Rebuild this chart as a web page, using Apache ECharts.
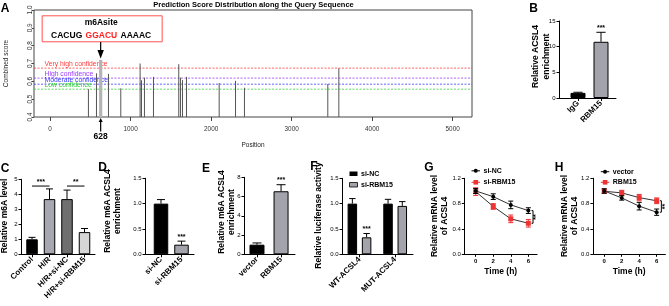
<!DOCTYPE html>
<html><head><meta charset="utf-8">
<script src="https://cdn.jsdelivr.net/npm/echarts@6/dist/echarts.min.js"></script>
<style>html,body{margin:0;padding:0;background:#fff}#c{width:669px;height:306px}</style>
</head><body><div id="c"></div>
<script>
// ---------------- DATA ----------------
// Panel A
const aPositions = [476, 576, 628, 725, 878, 1118, 1135, 1172, 1284, 1598, 1619, 1644, 1694, 2100, 2303, 2414, 3449, 3586];
const aScores    = [0.556, 0.645, 0.72, 0.642, 0.561, 0.70, 0.606, 0.621, 0.625, 0.696, 0.621, 0.607, 0.625, 0.59, 0.603, 0.564, 0.585, 0.673];
const aSitePos = 628;
const aSiteSeq = ['CACUG', 'GGACU', 'AAAAC'];
const aThresholds = [0.674, 0.618, 0.584, 0.556];
const aThresholdNames = ['Very high confidence', 'High confidence', 'Moderate confidence', 'Low confidence'];
const aXTicks = [0, 1000, 2000, 3000, 4000, 5000];
// Panel B
const bCats = ['IgG', 'RBM15'];
const bValues = [1.0, 10.95];
const bErrors = [0.12, 1.85];
const bSig = ['', '***'];
// Panel C
const cCats = ['Control', 'H/R', 'H/R+si-NC', 'H/R+si-RBM15'];
const cValues = [1.0, 3.68, 3.68, 1.48];
const cErrors = [0.13, 0.68, 0.6, 0.24];
const cBrackets = [[0, 1, '***'], [2, 3, '**']];
const cBracketLevel = 4.55;
// Panel D
const dCats = ['si-NC', 'si-RBM15'];
const dValues = [1.0, 0.19];
const dErrors = [0.08, 0.07];
const dSig = ['', '***'];
// Panel E
const eCats = ['vector', 'RBM15'];
const eValues = [1.0, 6.55];
const eErrors = [0.18, 0.68];
const eSig = ['', '***'];
// Panel F
const fCats = ['WT-ACSL4', 'MUT-ACSL4'];
const fSiNC = [1.0, 1.0];
const fSiNCErr = [0.1, 0.085];
const fSiRBM15 = [0.335, 0.955];
const fSiRBM15Err = [0.075, 0.085];
const fSig = ['***', ''];
// Panel G
const gTimes = [0, 2, 4, 6];
const gSiNC = [1.0, 0.91, 0.78, 0.69];
const gSiNCErr = [0.04, 0.045, 0.06, 0.045];
const gSiRBM15 = [0.99, 0.755, 0.56, 0.49];
const gSiRBM15Err = [0.06, 0.045, 0.06, 0.06];
const gSig = '**';
// Panel H
const hTimes = [0, 2, 4, 6];
const hVector = [1.0, 0.89, 0.76, 0.665];
const hVectorErr = [0.035, 0.035, 0.06, 0.05];
const hRBM15 = [0.995, 0.97, 0.895, 0.845];
const hRBM15Err = [0.035, 0.04, 0.05, 0.045];
const hSig = '**';

// ---------------- STYLE / LAYOUT ----------------
const FONT = '"Liberation Sans", Arial, sans-serif';
const GRAY = '#a3a3ab';
const grids = [], xAxes = [], yAxes = [], series = [];

function yAxisCfg(gi, max, interval, fmt) {
  return {
    gridIndex: gi, type: 'value', min: 0, max: max, interval: interval, splitLine: {show: false},
    axisLine: {show: true, onZero: false, lineStyle: {color: '#000', width: 1}},
    axisTick: {show: true, length: 2.5, lineStyle: {color: '#000'}},
    axisLabel: {show: true, fontSize: 6, margin: 3.5, color: '#000', fontFamily: FONT, hideOverlap: false,
      showMinLabel: true, showMaxLabel: true, formatter: fmt || (v => String(v))}
  };
}

function barPanel(o) {
  const gi = grids.length;
  grids.push({left: o.left, top: o.top, width: o.width, height: o.height, outerBoundsMode: 'none'});
  const idx = o.cats.map((_, i) => i);
  xAxes.push({
    gridIndex: gi, type: 'value', min: o.xmin, max: o.xmax, splitLine: {show: false},
    axisLine: {show: true, onZero: false, lineStyle: {color: '#000', width: 1}},
    axisTick: {show: true, customValues: idx, length: 3, lineStyle: {color: '#000'}},
    axisLabel: {show: true, customValues: idx, formatter: v => o.cats[Math.round(v)], rotate: 45, margin: 4,
      fontSize: 8, fontWeight: 'bold', color: '#000', fontFamily: FONT}
  });
  yAxes.push(yAxisCfg(gi, o.ymax, o.yint, o.yfmt));
  o.groups.forEach((g, si) => {
    const off = o.offsets ? o.offsets[si] : 0;
    series.push({
      type: 'bar', name: g.name, xAxisIndex: gi, yAxisIndex: gi, barWidth: o.barWidth, barGap: o.barGap || '0%',
      data: g.values.map((v, i) => ({value: [i, v], itemStyle: {color: g.colors[i]}})),
      itemStyle: {borderColor: '#000', borderWidth: 1}, animation: false, silent: true
    });
    series.push({
      type: 'custom', xAxisIndex: gi, yAxisIndex: gi, clip: false, animation: false, silent: true, z: 3,
      data: g.values.map((v, i) => [i, v, g.errors[i]]),
      renderItem: (params, api) => {
        const i = params.dataIndex;
        const x = api.value(0), v = api.value(1), e = api.value(2);
        const p0 = api.coord([x, v]), p1 = api.coord([x, v + e]);
        const cx = p0[0] + off;
        const ch = [
          {type: 'line', shape: {x1: cx, y1: p0[1], x2: cx, y2: p1[1]}, style: {stroke: '#000', lineWidth: 1}},
          {type: 'line', shape: {x1: cx - o.cap, y1: p1[1], x2: cx + o.cap, y2: p1[1]}, style: {stroke: '#000', lineWidth: 1}}
        ];
        const s = g.sig ? g.sig[i] : '';
        if (s) ch.push({type: 'text', x: cx, y: p1[1] - 1, style: {text: s, align: 'center', verticalAlign: 'bottom', font: 'bold 7px ' + FONT, fill: '#000'}});
        return {type: 'group', children: ch};
      }
    });
  });
  return gi;
}

function linePanel(o) {
  const gi = grids.length;
  grids.push({left: o.left, top: o.top, width: o.width, height: o.height, outerBoundsMode: 'none'});
  xAxes.push({
    gridIndex: gi, type: 'value', min: -1.3, max: 7, splitLine: {show: false},
    name: 'Time (h)', nameLocation: 'middle', nameGap: 13,
    nameTextStyle: {fontSize: 8.5, fontWeight: 'bold', fontFamily: FONT, color: '#000'},
    axisLine: {show: true, onZero: false, lineStyle: {color: '#000', width: 1}},
    axisTick: {show: true, customValues: o.times, length: 2.5, lineStyle: {color: '#000'}},
    axisLabel: {show: true, customValues: o.times, fontSize: 6, fontWeight: 'bold', margin: 4, color: '#000', fontFamily: FONT}
  });
  yAxes.push(yAxisCfg(gi, 1.2, 0.4, v => v.toFixed(1)));
  o.lines.forEach(l => {
    series.push({
      type: 'line', name: l.name, xAxisIndex: gi, yAxisIndex: gi,
      data: o.times.map((t, i) => [t, l.values[i]]),
      symbol: l.symbol, symbolSize: l.size, lineStyle: {color: l.lineColor, width: 1},
      itemStyle: {color: l.color}, animation: false, silent: true, z: l.z
    });
    series.push({
      type: 'custom', xAxisIndex: gi, yAxisIndex: gi, clip: false, animation: false, silent: true, z: l.z,
      data: o.times.map((t, i) => [t, l.values[i], l.errors[i]]),
      renderItem: (params, api) => {
        const x = api.value(0), v = api.value(1), e = api.value(2);
        const pt = api.coord([x, v + e]), pb = api.coord([x, v - e]);
        const st = {stroke: l.color, lineWidth: 1};
        return {type: 'group', children: [
          {type: 'line', shape: {x1: pt[0], y1: pt[1], x2: pb[0], y2: pb[1]}, style: st},
          {type: 'line', shape: {x1: pt[0] - 2.5, y1: pt[1], x2: pt[0] + 2.5, y2: pt[1]}, style: st},
          {type: 'line', shape: {x1: pb[0] - 2.5, y1: pb[1], x2: pb[0] + 2.5, y2: pb[1]}, style: st}
        ]};
      }
    });
  });
  const last = o.times.length - 1;
  series.push({
    type: 'custom', xAxisIndex: gi, yAxisIndex: gi, clip: false, animation: false, silent: true,
    data: [[o.times[last], o.lines[0].values[last], o.lines[1].values[last]]],
    renderItem: (params, api) => {
      const p1 = api.coord([api.value(0), api.value(1)]), p2 = api.coord([api.value(0), api.value(2)]);
      const x = p1[0] + 4.7;
      const st = {stroke: '#000', lineWidth: 1};
      return {type: 'group', children: [
        {type: 'line', shape: {x1: x, y1: p1[1], x2: x, y2: p2[1]}, style: st},
        {type: 'line', shape: {x1: x - 1.5, y1: p1[1], x2: x, y2: p1[1]}, style: st},
        {type: 'line', shape: {x1: x - 1.5, y1: p2[1], x2: x, y2: p2[1]}, style: st},
        {type: 'text', x: x + 3.2, y: (p1[1] + p2[1]) / 2, rotation: Math.PI / 2,
          style: {text: o.sig, align: 'center', verticalAlign: 'middle', font: 'bold 7px ' + FONT, fill: '#000'}}
      ]};
    }
  });
  return gi;
}

// ---------- Panel A ----------
grids.push({left: 34, top: 10, width: 438, height: 107, show: true, borderColor: '#444', borderWidth: 1, outerBoundsMode: 'none'});
xAxes.push({
  gridIndex: 0, type: 'value', min: -200, max: 5240, splitLine: {show: false},
  name: 'Position', nameLocation: 'middle', nameGap: 24.5,
  nameTextStyle: {fontSize: 6.5, color: '#222', fontFamily: FONT},
  axisLine: {show: false, onZero: false},
  axisTick: {show: true, customValues: aXTicks, length: 4, lineStyle: {color: '#444'}},
  axisLabel: {show: true, customValues: aXTicks, fontSize: 6.4, margin: 9, color: '#333', fontFamily: FONT, formatter: v => String(v)}
});
yAxes.push({
  gridIndex: 0, type: 'value', min: 0.4, max: 1.0, interval: 0.1, splitLine: {show: false},
  name: 'Combined score', nameLocation: 'middle', nameGap: 24, nameRotate: 90,
  nameTextStyle: {fontSize: 6.5, color: '#222', fontFamily: FONT},
  axisLine: {show: false, onZero: false},
  axisTick: {show: true, length: 2, lineStyle: {color: '#444'}},
  axisLabel: {rotate: 90, fontSize: 6.4, margin: 1, color: '#333', fontFamily: FONT, formatter: v => v.toFixed(1)}
});
const thrColors = ['#ff3b3b', '#9b3bff', '#3b3bff', '#33d633'];
series.push({
  type: 'custom', xAxisIndex: 0, yAxisIndex: 0, animation: false, silent: true, z: 1,
  data: aThresholds.map(t => [0, t]),
  renderItem: (params, api) => {
    const cs = params.coordSys;
    const y = api.coord([0, api.value(1)])[1];
    const c = thrColors[params.dataIndex];
    return {type: 'group', children: [
      {type: 'line', shape: {x1: cs.x, y1: y, x2: cs.x + cs.width, y2: y}, style: {stroke: c, lineWidth: 0.8, lineDash: [2, 1.5]}},
      {type: 'text', x: cs.x + 10.5, y: y - 1, style: {text: aThresholdNames[params.dataIndex], align: 'left', verticalAlign: 'bottom', font: '6.8px ' + FONT, fill: c}}
    ]};
  }
});
series.push({
  type: 'custom', xAxisIndex: 0, yAxisIndex: 0, animation: false, silent: true, z: 2,
  data: aPositions.map((p, i) => [p, aScores[i]]),
  renderItem: (params, api) => {
    const p = api.value(0);
    const top = api.coord([p, api.value(1)]), bot = api.coord([p, 0.4]);
    const isSite = p === aSitePos;
    return {type: 'line', shape: {x1: top[0], y1: top[1], x2: bot[0], y2: bot[1]},
      style: {stroke: isSite ? '#b4b4b4' : '#555', lineWidth: isSite ? 3.2 : 1}};
  }
});

// ---------- Panels B-H ----------
barPanel({left: 559, top: 21, width: 57, height: 77, xmin: -0.826, xmax: 1.652, ymax: 15, yint: 5,
  cats: bCats, barWidth: 15, cap: 4.6,
  groups: [{name: 'B', values: bValues, errors: bErrors, sig: bSig, colors: ['#000', GRAY]}]});
const cGrid = barPanel({left: 21, top: 179.3, width: 74, height: 75, xmin: -0.63, xmax: 3.6, ymax: 5, yint: 1,
  cats: cCats, barWidth: 11.5, cap: 3.5,
  groups: [{name: 'C', values: cValues, errors: cErrors, colors: ['#000', '#a7a7b1', '#6f6f6f', '#d6d6d6']}]});
series.push({
  type: 'custom', xAxisIndex: cGrid, yAxisIndex: cGrid, clip: false, animation: false, silent: true,
  data: cBrackets.map(b => [b[0], b[1], cBracketLevel]),
  renderItem: (params, api) => {
    const a = api.coord([api.value(0), api.value(2)]), b = api.coord([api.value(1), api.value(2)]);
    return {type: 'group', children: [
      {type: 'line', shape: {x1: a[0], y1: a[1], x2: b[0], y2: b[1]}, style: {stroke: '#000', lineWidth: 1}},
      {type: 'text', x: (a[0] + b[0]) / 2, y: a[1] - 0.5, style: {text: cBrackets[params.dataIndex][2], align: 'center', verticalAlign: 'bottom', font: 'bold 7px ' + FONT, fill: '#000'}}
    ]};
  }
});
barPanel({left: 145, top: 178.3, width: 49, height: 76, xmin: -0.78, xmax: 1.61, ymax: 1.5, yint: 0.5,
  yfmt: v => v.toFixed(1), cats: dCats, barWidth: 14.5, cap: 4,
  groups: [{name: 'D', values: dValues, errors: dErrors, sig: dSig, colors: ['#000', GRAY]}]});
barPanel({left: 244, top: 177.3, width: 51, height: 77, xmin: -0.54, xmax: 1.58, ymax: 8, yint: 2,
  cats: eCats, barWidth: 15, cap: 4.5,
  groups: [{name: 'E', values: eValues, errors: eErrors, sig: eSig, colors: ['#000', GRAY]}]});
barPanel({left: 342, top: 178.3, width: 71, height: 76, xmin: -0.49, xmax: 1.5, ymax: 1.5, yint: 0.5,
  yfmt: v => v.toFixed(1), cats: fCats, barWidth: 9.5, barGap: '50%', cap: 3.2, offsets: [-7.125, 7.125],
  groups: [
    {name: 'si-NC', values: fSiNC, errors: fSiNCErr, colors: ['#000', '#000']},
    {name: 'si-RBM15', values: fSiRBM15, errors: fSiRBM15Err, sig: fSig, colors: [GRAY, GRAY]}
  ]});
linePanel({left: 464.3, top: 178.3, width: 72.8, height: 76, times: gTimes, sig: gSig,
  lines: [
    {name: 'si-NC', values: gSiNC, errors: gSiNCErr, symbol: 'circle', size: 4, color: '#000', lineColor: '#333', z: 4},
    {name: 'si-RBM15', values: gSiRBM15, errors: gSiRBM15Err, symbol: 'rect', size: 5, color: '#ee3333', lineColor: '#333', z: 3}
  ]});
linePanel({left: 592.9, top: 178.3, width: 72.5, height: 76, times: hTimes, sig: hSig,
  lines: [
    {name: 'vector', values: hVector, errors: hVectorErr, symbol: 'circle', size: 4, color: '#000', lineColor: '#333', z: 4},
    {name: 'RBM15', values: hRBM15, errors: hRBM15Err, symbol: 'rect', size: 5, color: '#ee3333', lineColor: '#333', z: 3}
  ]});

const chart = echarts.init(document.getElementById('c'), null, {renderer: 'canvas'});
chart.setOption({animation: false, backgroundColor: '#fff', grid: grids, xAxis: xAxes, yAxis: yAxes, series: series});

// ---------------- annotations (text) ----------------
const site = chart.convertToPixel({gridIndex: 0}, [aSitePos, 1.0]);
const siteBot = chart.convertToPixel({gridIndex: 0}, [aSitePos, 0.4]);
const sx = site[0];
function T(x, y, text, font, o) {
  o = o || {};
  return {type: 'text', x: x, y: y, rotation: o.rot || 0, z: 100,
    style: {text: text, font: font, fill: o.fill || '#000', align: o.align || 'center', verticalAlign: 'middle', lineHeight: o.lh}};
}
const B9 = 'bold 8.5px ' + FONT;
const L12 = 'bold 12px ' + FONT;
const R = Math.PI / 2;
const g = [
  // panel letters
  T(5, 9, 'A', L12), T(533.5, 9, 'B', L12), T(5, 169, 'C', L12), T(102.5, 168, 'D', L12),
  T(206, 168.5, 'E', L12), T(314, 167, 'F', L12), T(429, 168, 'G', L12), T(559, 168, 'H', L12),
  // panel A
  T(253.5, 4.5, 'Prediction Score Distribution along the Query Sequence', 'bold 7.5px ' + FONT),
  {type: 'rect', z: 100, shape: {x: sx - 58.5, y: site[1] + 5.8, width: 120, height: 26}, style: {fill: '#fff', stroke: '#ff5050', lineWidth: 1}},
  T(sx + 0.5, site[1] + 13, 'm6Asite', 'bold 8.5px ' + FONT),
  {type: 'text', z: 100, x: sx + 0.5, y: site[1] + 26, style: {
    text: '{k|' + aSiteSeq[0] + '} {r|' + aSiteSeq[1] + '} {k|' + aSiteSeq[2] + '}',
    align: 'center', verticalAlign: 'middle',
    rich: {k: {font: 'bold 8.5px ' + FONT, fill: '#000'}, r: {font: 'bold 8.5px ' + FONT, fill: '#ff2020'}}}},
  {type: 'line', z: 100, shape: {x1: sx, y1: site[1] + 32, x2: sx, y2: site[1] + 41}, style: {stroke: '#000', lineWidth: 1.2}},
  {type: 'polygon', z: 100, shape: {points: [[sx - 3.2, site[1] + 40], [sx + 3.2, site[1] + 40], [sx, site[1] + 48.5]]}, style: {fill: '#000'}},
  {type: 'line', z: 100, shape: {x1: sx, y1: siteBot[1] + 4, x2: sx, y2: siteBot[1] + 14.5}, style: {stroke: '#000', lineWidth: 1.2}},
  {type: 'polygon', z: 100, shape: {points: [[sx - 2, siteBot[1] + 5], [sx + 2, siteBot[1] + 5], [sx, siteBot[1] + 1]]}, style: {fill: '#000'}},
  T(sx, siteBot[1] + 20, String(aSitePos), 'bold 8.5px ' + FONT),
  // y titles
  T(541.3, 56.5, 'Relative ACSL4\nenrichment', B9, {rot: R, lh: 10.5}),
  T(5, 216, 'Relative m6A level', B9, {rot: R}),
  T(112.5, 211, 'Relative m6A ACSL4\nenrichment', B9, {rot: R, lh: 10.5}),
  T(226.7, 212, 'Relative m6A ACSL4\nenrichment', B9, {rot: R, lh: 10}),
  T(319, 215.5, 'Relative luciferase activity', B9, {rot: R}),
  T(440, 216, 'Relative mRNA level\nof ACSL4', B9, {rot: R, lh: 10}),
  T(570, 216, 'Relative mRNA level\nof ACSL4', B9, {rot: R, lh: 10}),
  // legend F
  {type: 'rect', z: 100, shape: {x: 349.5, y: 171.5, width: 8, height: 4.5}, style: {fill: '#000'}},
  T(361, 173.8, 'si-NC', 'bold 7px ' + FONT, {align: 'left'}),
  {type: 'rect', z: 100, shape: {x: 349.5, y: 182.5, width: 8, height: 4.5}, style: {fill: GRAY, stroke: '#000', lineWidth: 0.8}},
  T(361, 184.8, 'si-RBM15', 'bold 7px ' + FONT, {align: 'left'}),
];
// legends G / H
function lineLegend(x0, y, label, red) {
  const c = red ? '#ee3333' : '#000';
  const arr = [{type: 'line', z: 100, shape: {x1: x0, y1: y, x2: x0 + 8.5, y2: y}, style: {stroke: c, lineWidth: 1}}];
  if (red) arr.push({type: 'rect', z: 100, shape: {x: x0 + 2, y: y - 2.3, width: 4.6, height: 4.6}, style: {fill: c}});
  else arr.push({type: 'circle', z: 100, shape: {cx: x0 + 4.25, cy: y, r: 2}, style: {fill: c}});
  arr.push(T(x0 + 12, y, label, 'bold 7px ' + FONT, {align: 'left'}));
  return arr;
}
g.push(...lineLegend(471.5, 170.8, 'si-NC', false), ...lineLegend(471.5, 182.3, 'si-RBM15', true));
g.push(...lineLegend(600.8, 171.7, 'vector', false), ...lineLegend(600.8, 182.3, 'RBM15', true));
chart.setOption({graphic: g});
</script>
</body></html>
